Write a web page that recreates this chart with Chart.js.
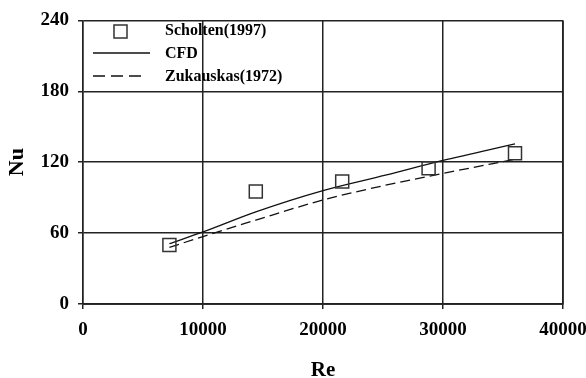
<!DOCTYPE html>
<html><head><meta charset="utf-8">
<script src="https://cdn.jsdelivr.net/npm/chart.js@4/dist/chart.umd.min.js"></script>
<style>html,body{margin:0;padding:0;background:#fff}#wrap{width:586px;height:378px}</style>
</head><body><div id="wrap"><canvas id="c"></canvas></div>
<script>
const scholtenRe = [7200, 14400, 21600, 28800, 36000];
const scholtenNu = [50, 95.3, 103.7, 114.8, 127.6];
const cfdRe = [7200, 10000, 14400, 20000, 25200, 30000, 36000];
const cfdNu = [51, 61, 78, 96, 109, 121.5, 135.5];
const zukRe = [7200, 10000, 14400, 20000, 25200, 30000, 36000];
const zukNu = [48, 57, 71, 88, 100.5, 110.5, 122.5];
const xTicks = [0, 10000, 20000, 30000, 40000];
const yTicks = [0, 60, 120, 180, 240];
const labels = ['Scholten(1997)', 'CFD', 'Zukauskas(1972)'];

const pts = (xs, ys) => xs.map((x, i) => ({x, y: ys[i]}));
Chart.defaults.font.family = "'Liberation Serif', 'Times New Roman', serif";
Chart.defaults.font.weight = 'bold';
Chart.defaults.color = '#000';

const legendPlugin = {
  id: 'insideLegend',
  afterDraw(chart) {
    const ctx = chart.ctx;
    ctx.save();
    ctx.font = "bold 16px 'Liberation Serif', serif";
    ctx.fillStyle = '#000';
    ctx.textBaseline = 'middle';
    ctx.strokeStyle = '#333'; ctx.lineWidth = 1.5;
    ctx.strokeRect(114, 25, 13, 13);
    ctx.fillText(labels[0], 165, 31);
    ctx.strokeStyle = '#111'; ctx.lineWidth = 1.3;
    ctx.beginPath(); ctx.moveTo(93, 53); ctx.lineTo(150, 53); ctx.stroke();
    ctx.fillText(labels[1], 165, 54);
    ctx.setLineDash([12, 6]);
    ctx.beginPath(); ctx.moveTo(93, 76); ctx.lineTo(146, 76); ctx.stroke();
    ctx.setLineDash([]);
    ctx.fillText(labels[2], 165, 77);
    ctx.restore();
  }
};

new Chart(document.getElementById('c'), {
  type: 'scatter',
  data: {
    datasets: [
      {label: labels[0], data: pts(scholtenRe, scholtenNu), showLine: false,
       pointStyle: 'rect', pointRadius: 9.2, pointHoverRadius: 9.2, borderColor: '#333', borderWidth: 1.5,
       backgroundColor: 'rgba(0,0,0,0)', order: 0},
      {label: labels[1], data: pts(cfdRe, cfdNu), showLine: true, pointRadius: 0,
       borderColor: '#111', borderWidth: 1.3, cubicInterpolationMode: 'monotone', order: 1},
      {label: labels[2], data: pts(zukRe, zukNu), showLine: true, pointRadius: 0,
       borderColor: '#111', borderWidth: 1.3, borderDash: [10, 5], cubicInterpolationMode: 'monotone', order: 2}
    ]
  },
  options: {
    responsive: true, maintainAspectRatio: false, animation: false,
    layout: {padding: {left: 0, right: 23, top: 17, bottom: 0}},
    plugins: {legend: {display: false}, tooltip: {enabled: false}},
    scales: {
      x: {
        type: 'linear', min: 0, max: 40000,
        afterBuildTicks: s => { s.ticks = xTicks.map(v => ({value: v})); },
        afterFit: s => { s.height = 74; s.paddingLeft = 0; s.paddingRight = 0; },
        grid: {color: '#222', lineWidth: 1.5, tickLength: 5},
        border: {color: '#222', width: 1.5},
        ticks: {font: {size: 19, weight: 'bold'}, padding: 10, maxRotation: 0, callback: v => String(v)},
        title: {display: true, text: 'Re', font: {size: 21, weight: 'bold', lineHeight: 0.66}, padding: {top: 0, bottom: 0}}
      },
      y: {
        type: 'linear', min: 0, max: 240,
        afterBuildTicks: s => { s.ticks = yTicks.map(v => ({value: v})); },
        afterFit: s => { s.width = 83; },
        grid: {color: '#222', lineWidth: 1.5, tickLength: 5},
        border: {color: '#222', width: 1.5},
        ticks: {font: {size: 19, weight: 'bold'}, padding: 9, callback: v => String(v)},
        title: {display: true, text: 'Nu', font: {size: 22, weight: 'bold', lineHeight: 1}, padding: {top: 6, bottom: 0}}
      }
    }
  },
  plugins: [legendPlugin, {
    id: 'rightBorder',
    afterDraw(chart) {
      const {ctx, chartArea: a} = chart;
      ctx.save(); ctx.strokeStyle = '#222'; ctx.lineWidth = 1.5;
      ctx.beginPath(); ctx.moveTo(a.right, a.top); ctx.lineTo(a.right, a.bottom); ctx.lineTo(a.left, a.bottom); ctx.stroke();
      ctx.restore();
    }
  }]
});
</script></body></html>
